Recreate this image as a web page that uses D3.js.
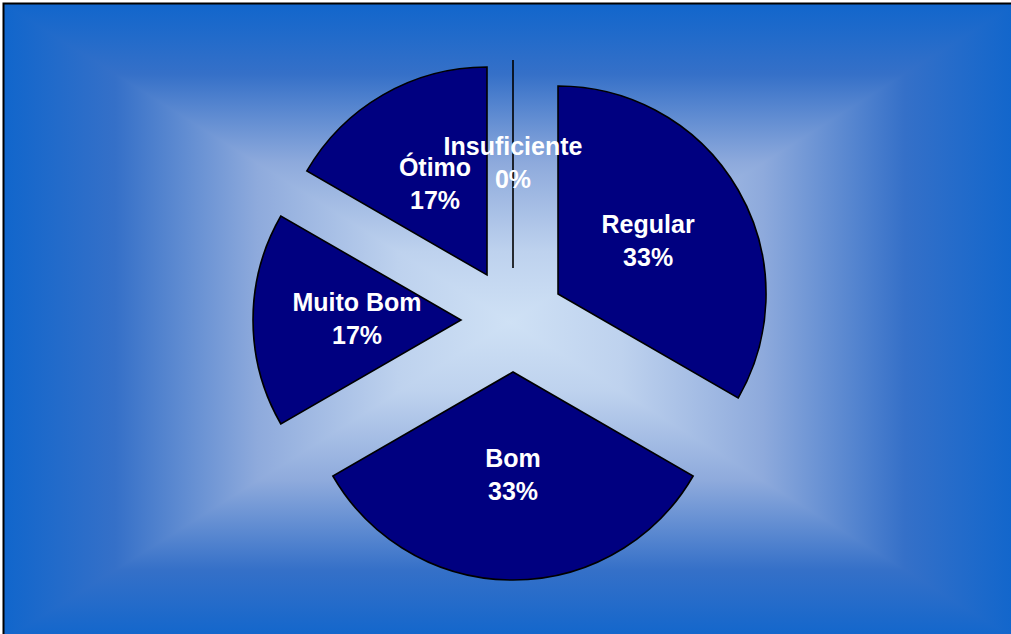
<!DOCTYPE html>
<html>
<head>
<meta charset="utf-8">
<script src="https://cdn.jsdelivr.net/npm/d3@7"></script>
<style>
  html, body { margin: 0; padding: 0; background: #ffffff; }
  svg { display: block; }
</style>
</head>
<body>
<svg id="chart" width="1011" height="634"></svg>
<script>
// ---- data ----
const categories = ["Insuficiente", "Regular", "Bom", "Muito Bom", "Ótimo"];
const values = [0, 2, 2, 1, 1];
const percentLabels = ["0%", "33%", "33%", "17%", "17%"];

// ---- layout ----
const frame = { x: 4, y: 4, w: 1012, h: 636 };
const cx = 513, cy = 320, radius = 208, explode = 52;

const svg = d3.select("#chart");
const defs = svg.append("defs");

// rectangular ("path") gradient built from four triangles
const gx = frame.x + frame.w / 2, gy = frame.y + frame.h / 2;
const stops = [
  [0, "#1166cc"], [0.22, "#3570c8"], [0.5, "#8eaadc"], [0.78, "#bed2ee"], [1, "#cfe1f5"]
];
function grad(id, x1, y1, x2, y2) {
  const g = defs.append("linearGradient").attr("id", id)
    .attr("gradientUnits", "userSpaceOnUse")
    .attr("x1", x1).attr("y1", y1).attr("x2", x2).attr("y2", y2);
  stops.forEach(s => g.append("stop").attr("offset", s[0]).attr("stop-color", s[1]));
}
const L = frame.x, T = frame.y, R = frame.x + frame.w, B = frame.y + frame.h;
grad("gTop", gx, T, gx, gy);
grad("gBottom", gx, B, gx, gy);
grad("gLeft", L, gy, gx, gy);
grad("gRight", R, gy, gx, gy);

const bg = svg.append("g");
bg.append("path").attr("d", `M${L},${T}L${R},${T}L${gx},${gy}Z`).attr("fill", "url(#gTop)");
bg.append("path").attr("d", `M${L},${B}L${R},${B}L${gx},${gy}Z`).attr("fill", "url(#gBottom)");
bg.append("path").attr("d", `M${L},${T}L${L},${B}L${gx},${gy}Z`).attr("fill", "url(#gLeft)");
bg.append("path").attr("d", `M${R},${T}L${R},${B}L${gx},${gy}Z`).attr("fill", "url(#gRight)");
bg.selectAll("path").attr("shape-rendering", "crispEdges");
// frame: only top and left edges fall inside the picture
svg.append("path").attr("d", `M${L - 0.5},634V${T - 0.5}H1011`)
  .attr("fill", "none").attr("stroke", "#000").attr("stroke-width", 2);

// ---- pie ----
const data = categories.map((c, i) => ({ cat: c, value: values[i], label: percentLabels[i] }));
const pie = d3.pie().sort(null).value(d => d.value).startAngle(0).endAngle(2 * Math.PI);
const arc = d3.arc().innerRadius(0).outerRadius(radius);
const arcs = pie(data);

const g = svg.append("g").attr("transform", `translate(${cx},${cy})`);
function offset(d) {
  const a = (d.startAngle + d.endAngle) / 2;
  return [explode * Math.sin(a), -explode * Math.cos(a)];
}
const slices = g.append("g");
slices.selectAll("path").data(arcs).enter().append("path")
  .attr("transform", d => { const o = offset(d); return `translate(${o[0]},${o[1]})`; })
  .attr("d", arc)
  .attr("fill", "#000080")
  .attr("stroke", "#000")
  .attr("stroke-width", 1.6)
  .attr("stroke-linejoin", "miter");

const labels = g.append("g");
const txt = labels.selectAll("text").data(arcs).enter().append("text")
  .attr("transform", d => {
    const o = offset(d), c = arc.centroid(d);
    return `translate(${c[0] + o[0]},${c[1] + o[1]})`;
  })
  .attr("text-anchor", "middle")
  .attr("font-family", "Liberation Sans, Arial, sans-serif")
  .attr("font-weight", "bold")
  .attr("font-size", 25)
  .attr("fill", "#ffffff");
txt.append("tspan").attr("x", 0).attr("y", -9).text(d => d.data.cat);
txt.append("tspan").attr("x", 0).attr("y", 24).text(d => d.data.label);
</script>
</body>
</html>
